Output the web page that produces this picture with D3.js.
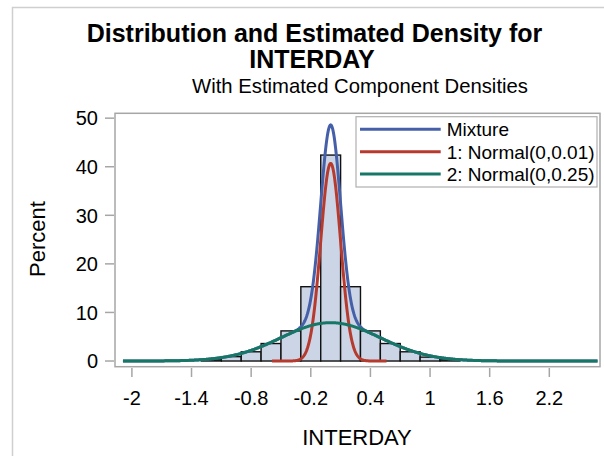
<!DOCTYPE html>
<html><head><meta charset="utf-8">
<script src="https://cdn.jsdelivr.net/npm/d3@7"></script>
<style>body{margin:0;background:#fff}svg{display:block}text{font-family:"Liberation Sans",Arial,sans-serif;fill:#000}</style>
</head><body><svg id="c" width="604" height="456"></svg>
<script>
// Histogram bins (midpoints) and percents
const binMids = [-1.2, -1.0, -0.8, -0.6, -0.4, -0.2, 0, 0.2, 0.4, 0.6, 0.8, 1.0, 1.2];
const binPct  = [0.3, 0.9, 1.9, 3.6, 6.2, 15.3, 42.4, 15.3, 6.2, 3.6, 1.9, 0.8, 0.3];
const binWidth = 0.2;
// Component model parameters (from the legend) and estimated weights
const compMeans = [0, 0];
const compVars = [0.01, 0.25];
const compWeights = [0.51, 0.495];
const legendLabels = ["Mixture", "1: Normal(0,0.01)", "2: Normal(0,0.25)"];
const xTicks = [-2, -1.4, -0.8, -0.2, 0.4, 1, 1.6, 2.2];
const yTicks = [0, 10, 20, 30, 40, 50];
const colors = ["#4560a8", "#b73a2f", "#177766"];

const svg = d3.select("#c");
const x = d3.scaleLinear().domain([-2.17, 2.71]).range([115, 600]);
const y = d3.scaleLinear().domain([-1.17, 51.0]).range([366.7, 113.3]);

// outer border
svg.append("rect").attr("x", 12.5).attr("y", 7.5).attr("width", 700).attr("height", 600)
  .attr("fill", "none").attr("stroke", "#cfcfcf").attr("stroke-width", 1.5);

// titles
svg.append("text").attr("x", 314.5).attr("y", 42).attr("text-anchor", "middle")
  .style("font-size", "25px").style("font-weight", "bold").text("Distribution and Estimated Density for");
svg.append("text").attr("x", 312).attr("y", 68).attr("text-anchor", "middle")
  .style("font-size", "25px").style("font-weight", "bold").text("INTERDAY");
svg.append("text").attr("x", 360).attr("y", 93).attr("text-anchor", "middle")
  .style("font-size", "20.3px").text("With Estimated Component Densities");

// histogram
svg.append("g").selectAll("rect").data(binMids).join("rect")
  .attr("x", d => x(d - binWidth / 2))
  .attr("width", d => x(d + binWidth / 2) - x(d - binWidth / 2))
  .attr("y", (d, i) => y(binPct[i]))
  .attr("height", (d, i) => y(0) - y(binPct[i]))
  .attr("fill", "#cbd5e6").attr("stroke", "#111").attr("stroke-width", 1.4);

// densities (percent scale: weight * pdf * binWidth * 100)
function pdf(v, m, s2) { return Math.exp(-(v - m) * (v - m) / (2 * s2)) / Math.sqrt(2 * Math.PI * s2); }
function comp(i, v) { return compWeights[i] * pdf(v, compMeans[i], compVars[i]) * binWidth * 100; }
const grid = d3.range(-2.09, 2.69, 0.005);
const grid1 = d3.range(-0.59, 0.566, 0.004);
const line = d3.line().x(d => x(d[0])).y(d => y(d[1]));
const curves = [
  grid.map(v => [v, comp(0, v) + comp(1, v)]),
  grid1.map(v => [v, comp(0, v)]),
  grid.map(v => [v, comp(1, v)])
];
svg.append("g").selectAll("path").data(curves).join("path")
  .attr("d", line).attr("fill", "none")
  .attr("stroke", (d, i) => colors[i]).attr("stroke-width", 3);

// frame
svg.append("rect").attr("x", 115).attr("y", 113.3).attr("width", 485).attr("height", 253.4)
  .attr("fill", "none").attr("stroke", "#a6a6a6").attr("stroke-width", 1.5);

// y axis
const yAxis = svg.append("g");
yAxis.selectAll("line").data(yTicks).join("line")
  .attr("x1", 105).attr("x2", 114).attr("y1", d => y(d)).attr("y2", d => y(d))
  .attr("stroke", "#a6a6a6").attr("stroke-width", 1.5);
yAxis.selectAll("text").data(yTicks).join("text")
  .attr("x", 98).attr("y", d => y(d) + 7.3).attr("text-anchor", "end")
  .style("font-size", "20px").text(d => d);
svg.append("text").attr("transform", "translate(44.5,239) rotate(-90)").attr("text-anchor", "middle")
  .style("font-size", "22px").text("Percent");

// x axis
const xAxis = svg.append("g");
xAxis.selectAll("line").data(xTicks).join("line")
  .attr("x1", d => x(d)).attr("x2", d => x(d)).attr("y1", 368).attr("y2", 377)
  .attr("stroke", "#a6a6a6").attr("stroke-width", 1.5);
xAxis.selectAll("text").data(xTicks).join("text")
  .attr("x", d => x(d)).attr("y", 405).attr("text-anchor", "middle")
  .style("font-size", "20px").text(d => d);
svg.append("text").attr("x", 357).attr("y", 445).attr("text-anchor", "middle")
  .style("font-size", "22px").text("INTERDAY");

// legend
const lg = svg.append("g");
lg.append("rect").attr("x", 356).attr("y", 116.7).attr("width", 241).attr("height", 70.3)
  .attr("fill", "#fff").attr("stroke", "#b0b0b0").attr("stroke-width", 1.2);
const ly = [129.3, 151.7, 174];
lg.selectAll("line").data(legendLabels).join("line")
  .attr("x1", 360).attr("x2", 440.7).attr("y1", (d, i) => ly[i]).attr("y2", (d, i) => ly[i])
  .attr("stroke", (d, i) => colors[i]).attr("stroke-width", 3);
lg.selectAll("text").data(legendLabels).join("text")
  .attr("x", 446.7).attr("y", (d, i) => ly[i] + 6.8)
  .style("font-size", "19px").text(d => d);
</script></body></html>
